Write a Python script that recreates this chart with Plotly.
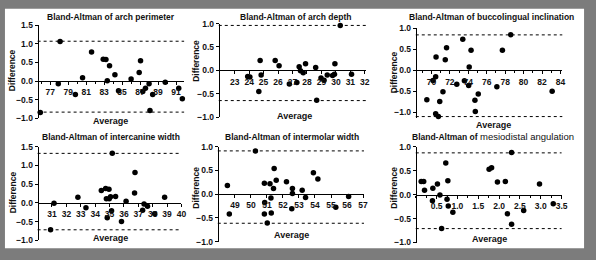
import plotly.graph_objects as go

W, H = 596, 260

# ---------------- data ----------------
perim_avg = [78.1, 77.9, 75.9, 79.8, 80.6, 81.6, 82.9, 83.2, 83.6, 83.35, 84.2, 84.6, 86.0, 86.9,
             87.05, 87.3, 87.6, 88.0, 88.1, 88.4, 89.8, 91.3, 91.7]
perim_diff = [1.06, -0.07, -0.84, -0.36, 0.09, 0.78, 0.59, 0.58, 0.41, 0.01, 0.17, -0.26, 0.06, 0.23,
              0.55, -0.28, -0.19, -0.07, -0.79, -0.36, -0.03, -0.19, -0.47]
perim_loa = [1.07, -0.83]
perim_xticks = [77, 79, 81, 83, 85, 87, 89, 91]
perim_yticks = [-1.0, -0.5, 0.0, 0.5, 1.0, 1.5]

depth_avg = [23.9, 24.05, 24.76, 24.83, 24.67, 25.8, 26.07, 26.78, 27.3, 27.46, 27.55, 27.74, 27.9,
             28.6, 28.67, 28.97, 29.18, 29.4, 29.77, 29.9, 29.93, 30.3, 31.08]
depth_diff = [-0.13, -0.14, 0.21, -0.10, -0.45, 0.21, 0.10, -0.29, -0.26, 0.08, -0.01, -0.05, 0.14,
              0.06, -0.64, -0.16, -0.21, -0.10, -0.11, -0.08, 0.14, 0.96, -0.08]
depth_loa = [0.96, -0.645]
depth_xticks = [23, 24, 25, 26, 27, 28, 29, 30, 31, 32]
depth_yticks = [-1.0, -0.5, 0.0, 0.5, 1.0]

bucco_avg = [69.5, 70.17, 70.46, 70.5, 70.46, 70.75, 70.9, 71.25, 71.5, 71.64, 72.75, 73.4, 73.58,
             74.04, 74.1, 74.3, 74.72, 74.76, 75.08, 77.1, 77.7, 78.6, 83.1]
bucco_diff = [-0.70, -0.24, -0.15, 0.32, -1.03, -1.10, -0.74, -0.51, 0.25, 0.54, -0.33, 0.74, -0.25,
              -0.36, 0.08, 0.48, -0.71, -0.98, -0.56, -0.39, 0.48, 0.85, -0.50]
bucco_loa = [0.845, -1.10]
bucco_xticks = [70, 72, 74, 76, 78, 80, 82, 84]
bucco_yticks = [-1.0, -0.5, 0.0, 0.5, 1.0]

canine_avg = [30.9, 31.14, 32.8, 33.36, 34.43, 34.73, 34.78, 34.96, 34.84, 34.98, 35.07, 35.14, 35.19,
              35.42, 35.83, 36.15, 36.74, 36.77, 37.3, 37.4, 37.64, 38.14, 38.83]
canine_diff = [-0.72, -0.01, 0.15, -0.13, 0.33, 0.38, 0.11, 0.36, -0.40, 0.11, 0.16, -0.21, 1.32,
               0.17, -0.50, 0.04, 0.26, 0.81, -0.20, -0.03, -0.09, -0.29, 0.15]
canine_loa = [1.32, -0.72]
canine_xticks = [31, 32, 33, 34, 35, 36, 37, 38, 39, 40]
canine_yticks = [-1.0, -0.5, 0.0, 0.5, 1.0, 1.5]

molar_avg = [48.53, 48.65, 50.28, 50.84, 50.86, 50.84, 51.02, 51.19, 51.25, 51.27, 51.41, 51.45, 51.58,
             52.22, 52.59, 52.59, 52.55, 53.2, 53.41, 53.9, 54.18, 55.3, 56.1]
molar_diff = [0.18, -0.42, 0.91, 0.23, -0.18, -0.42, -0.61, 0.22, -0.08, -0.40, 0.12, 0.54, 0.29,
              0.26, 0.12, 0.01, -0.31, 0.08, -0.07, 0.45, 0.32, -0.28, -0.05]
molar_loa = [0.91, -0.615]
molar_xticks = [49, 50, 51, 52, 53, 54, 55, 56, 57]
molar_yticks = [-1.0, -0.5, 0.0, 0.5, 1.0]

mesio_avg = [0.13, 0.19, 0.21, 0.41, 0.40, 0.52, 0.58, 0.62, 0.72, 0.75, 0.77, 0.78, 0.89,
             1.76, 1.82, 1.96, 2.15, 2.2, 2.30, 2.30, 2.59, 2.97, 3.30]
mesio_diff = [0.27, 0.27, 0.09, 0.13, -0.13, 0.22, -0.01, -0.71, 0.66, -0.10, 0.29, -0.24, -0.37,
              0.53, 0.56, 0.26, 0.27, -0.40, 0.88, -0.62, -0.33, 0.22, -0.19]
mesio_loa = [0.87, -0.71]
mesio_xticks = [0.5, 1.0, 1.5, 2.0, 2.5, 3.0, 3.5]
mesio_yticks = [-1.0, -0.5, 0.0, 0.5, 1.0]

titles = ["<b>Bland-Altman of arch perimeter</b>",
          "<b>Bland-Altman of arch depth</b>",
          "<b>Bland-Altman of buccolingual inclination</b>",
          "<b>Bland-Altman of intercanine width</b>",
          "<b>Bland-Altman of intermolar width</b>",
          "<b>Bland-Altman of</b> <span style='font-size:9.5px'>mesiodistal angulation</span>"]

# ---------------- layout specs (pixels) ----------------
panels = [
    dict(x=perim_avg, y=perim_diff, loa=perim_loa, xt=perim_xticks, yt=perim_yticks,
         px=(38, 186), py=(21, 118), xr=[75.6, 91.9], yr=[-1.0, 1.5], xminor=1, xfmt="d",
         title=(112, 12.5), avg=(112, 121), diff=(13, 68)),
    dict(x=depth_avg, y=depth_diff, loa=depth_loa, xt=depth_xticks, yt=depth_yticks,
         px=(221, 370), py=(19.3, 116.7), xr=[21.9, 32.1], yr=[-1.0, 1.0], xminor=None, xfmt="d",
         title=(298, 12), avg=(297, 115), diff=(198, 58)),
    dict(x=bucco_avg, y=bucco_diff, loa=bucco_loa, xt=bucco_xticks, yt=bucco_yticks,
         px=(420, 568), py=(24.3, 118), xr=[68.3, 84.2], yr=[-1.145, 1.0], xminor=1, xfmt="d",
         title=(497, 12), avg=(499, 125), diff=(398, 70)),
    dict(x=canine_avg, y=canine_diff, loa=canine_loa, xt=canine_xticks, yt=canine_yticks,
         px=(38, 183.3), py=(147.3, 244.7), xr=[30, 40], yr=[-1.0, 1.5], xminor=None, xfmt="d",
         title=(112, 137), avg=(112, 242), diff=(13, 195)),
    dict(x=molar_avg, y=molar_diff, loa=molar_loa, xt=molar_xticks, yt=molar_yticks,
         px=(220, 367.7), py=(147.3, 246), xr=[47.93, 57.06], yr=[-1.0, 1.0], xminor=None, xfmt="d",
         title=(295, 137), avg=(294, 239), diff=(198, 190)),
    dict(x=mesio_avg, y=mesio_diff, loa=mesio_loa, xt=mesio_xticks, yt=mesio_yticks,
         px=(420, 567.3), py=(147.3, 247), xr=[0, 3.5], yr=[-1.0, 1.0], xminor=0.25, xfmt=".1f",
         title=(498, 137), avg=(494, 243), diff=(398, 190)),
]

FONT = "Liberation Sans, Arial, sans-serif"

fig = go.Figure()
layout = dict(
    width=W, height=H, margin=dict(l=0, r=0, t=0, b=0),
    paper_bgcolor="#7c7c7c", plot_bgcolor="rgba(0,0,0,0)",
    showlegend=False, font=dict(family=FONT, color="#111"),
)
shapes = [dict(type="rect", xref="paper", yref="paper", x0=5 / W, x1=590 / W, y0=1 - 253 / H, y1=1 - 4 / H,
               fillcolor="white", line=dict(width=0), layer="below")]
annotations = []

for i, p in enumerate(panels):
    n = i + 1
    xa = "xaxis" if n == 1 else f"xaxis{n}"
    ya = "yaxis" if n == 1 else f"yaxis{n}"
    xr_ = "x" if n == 1 else f"x{n}"
    yr_ = "y" if n == 1 else f"y{n}"
    xd = [p["px"][0] / W, p["px"][1] / W]
    yd = [1 - p["py"][1] / H, 1 - p["py"][0] / H]
    y0, y1 = p["yr"]
    zero_pos = yd[0] + (0 - y0) / (y1 - y0) * (yd[1] - yd[0])
    yr_pad = [y0 - 1e-6, y1 + 1e-6]

    fig.add_trace(go.Scatter(x=p["x"], y=p["y"], mode="markers", xaxis=xr_, yaxis=yr_,
                             marker=dict(color="black", size=5.5), cliponaxis=False))

    xax = dict(domain=xd, range=p["xr"], anchor="free", position=zero_pos,
               showline=True, linecolor="black", linewidth=1, showgrid=False, zeroline=False,
               ticks="outside", ticklen=3, tickwidth=1, tickcolor="black",
               tickmode="array", tickvals=p["xt"], tickformat=p["xfmt"],
               tickfont=dict(size=8.5, family=FONT, weight="bold", color="#111"))
    if p["xminor"]:
        xax["minor"] = dict(ticks="outside", ticklen=2, tickwidth=1, tickcolor="black",
                            dtick=p["xminor"], tick0=p["xt"][0], showgrid=False)
    layout[xa] = xax
    layout[ya] = dict(domain=yd, range=yr_pad, anchor="free", position=xd[0],
                      showline=True, linecolor="black", linewidth=1, showgrid=False, zeroline=False,
                      ticks="outside", ticklen=3, tickwidth=1, tickcolor="black",
                      tickmode="array", tickvals=p["yt"], tickformat=".1f",
                      tickfont=dict(size=8.5, family=FONT, weight="bold", color="#111"))

    for v in p["loa"]:
        shapes.append(dict(type="line", xref=f"{xr_} domain", yref=yr_, x0=0, x1=1, y0=v, y1=v,
                           line=dict(color="black", width=1, dash="dot")))

    annotations.append(dict(text=titles[i], x=p["title"][0] / W, y=1 - p["title"][1] / H,
                            xref="paper", yref="paper", showarrow=False, xanchor="center", yanchor="middle",
                            font=dict(size=8.5, family=FONT, color="#111")))
    annotations.append(dict(text="<b>Average</b>", x=p["avg"][0] / W, y=1 - p["avg"][1] / H,
                            xref="paper", yref="paper", showarrow=False, xanchor="center", yanchor="middle",
                            font=dict(size=9, family=FONT, color="#111")))
    annotations.append(dict(text="<b>Difference</b>", x=p["diff"][0] / W, y=1 - p["diff"][1] / H,
                            xref="paper", yref="paper", showarrow=False, xanchor="center", yanchor="middle",
                            textangle=-90, font=dict(size=8.5, family=FONT, color="#111")))

layout["shapes"] = shapes
layout["annotations"] = annotations
fig.update_layout(**layout)
fig.write_html("out.html")
